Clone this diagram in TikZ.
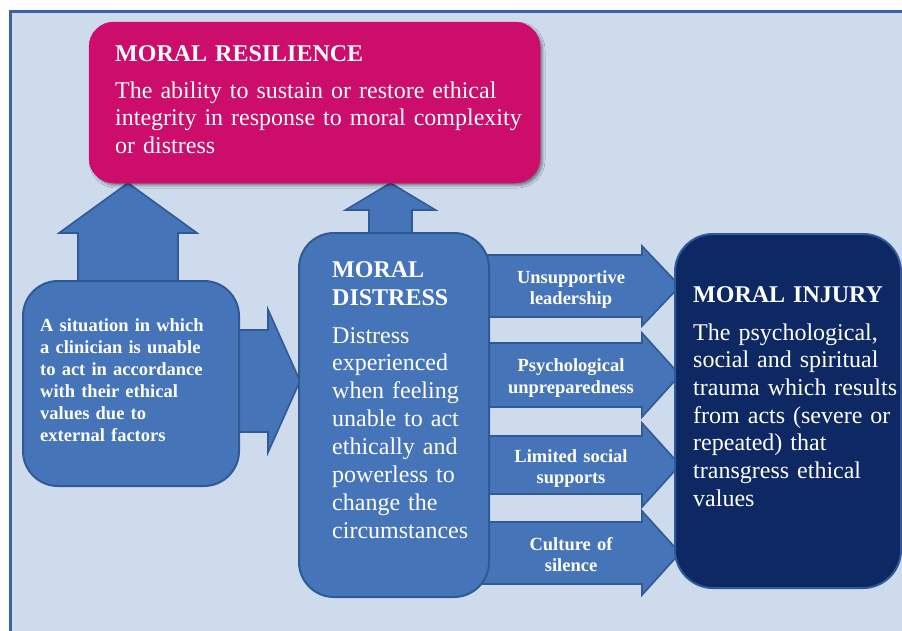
\documentclass[tikz,border=0pt]{standalone}
\usepackage{fontspec}
\setmainfont{Liberation Serif}
\usetikzlibrary{shadows.blur}

\definecolor{panelbg}{HTML}{CEDBED}
\definecolor{panelline}{HTML}{3A62A6}
\definecolor{boxblue}{HTML}{4674B8}
\definecolor{boxline}{HTML}{2F5A94}
\definecolor{resil}{HTML}{CC0D6B}
\definecolor{navy}{HTML}{0D2862}
\definecolor{navyline}{HTML}{2F5A9A}

% right-pointing block arrow: start x, head base x, tip x, centre y, shaft half height, head half height
\newcommand{\rightblock}[6]{%
  \filldraw[blockarrow] (#1,#4-#5) -- (#2,#4-#5) -- (#2,#4-#6) -- (#3,#4)
    -- (#2,#4+#6) -- (#2,#4+#5) -- (#1,#4+#5) -- cycle;}
% upward block arrow: start y, centre x, head base y, tip y, shaft half width, head half width
\newcommand{\upblock}[6]{%
  \filldraw[blockarrow] (#2-#5,#1) -- (#2-#5,#3) -- (#2-#6,#3) -- (#2,#4)
    -- (#2+#6,#3) -- (#2+#5,#3) -- (#2+#5,#1) -- cycle;}

\begin{document}
\begin{tikzpicture}[x=1pt,y=-1pt,
  box/.style={draw=boxline, line width=2pt, fill=boxblue, anchor=north west,
    inner sep=0pt, outer sep=0pt},
  blockarrow/.style={draw=boxline, line width=1.6pt, fill=boxblue, line join=miter},
  headtext/.style={text=white, anchor=base west, inner sep=0pt, align=left,
    text width=220pt, font=\bfseries\fontsize{24}{28}\selectfont},
  bodytext/.style={text=white, anchor=base west, inner sep=0pt, align=left},
  smalltext/.style={text=white, anchor=base, inner sep=0pt, align=center,
    text width=150pt, font=\bfseries\fontsize{18.5}{21.5}\selectfont},
]
\useasboundingbox (0,0) rectangle (902,630);

% background panel
\fill[panelbg] (10,10) rectangle (910,640);
\draw[panelline, line width=2.6pt] (10.6,640) -- (10.6,11.3) -- (910,11.3);

% block arrows (drawn beneath the boxes)
\upblock{300}{128}{233}{183}{50}{69}
\upblock{260}{390.5}{210}{183}{21.5}{45}
\rightblock{230}{268}{300}{381}{51}{71.5}
\rightblock{480}{642}{680}{286}{31}{40}
\rightblock{480}{642}{680}{375}{32}{42}
\rightblock{480}{642}{680}{465}{29}{42}
\rightblock{480}{642}{680}{553}{31}{42}

% boxes
\node[box, fill=resil, draw=resil, line width=0.5pt, rounded corners=25pt,
  minimum width=451pt, minimum height=161pt,
  blur shadow={shadow xshift=2.5pt, shadow yshift=-2.5pt, shadow blur radius=2.5pt, shadow opacity=45}]
  (res) at (89,22) {};
\node[box, rounded corners=35pt, minimum width=216pt, minimum height=205pt] (sit) at (23,281) {};
\node[box, rounded corners=35pt, minimum width=190pt, minimum height=364pt] (dist) at (299,233) {};
\node[box, fill=navy, draw=navyline, rounded corners=38pt,
  minimum width=226pt, minimum height=354pt] (inj) at (675,234) {};

% texts
\node[headtext, text width=300pt] (restitle) at (115,61) {MORAL RESILIENCE};
\node[bodytext, text width=420pt, font=\fontsize{24}{27.5}\selectfont] (resbody) at (115,98)
  {The ability to sustain or restore ethical\\integrity in response to moral complexity\\or distress};

\node[bodytext, text width=190pt, font=\bfseries\fontsize{18.5}{22}\selectfont] (sittext) at (40,331)
  {A situation in which\\a clinician is unable\\to act in accordance\\with their ethical\\values due to\\external factors};

\node[headtext, text width=150pt] (disttitle) at (332,277) {MORAL\\DISTRESS};
\node[bodytext, text width=155pt, font=\fontsize{24}{27.9}\selectfont] (distbody) at (332,343)
  {Distress\\experienced\\when feeling\\unable to act\\ethically and\\powerless to\\change the\\circumstances};

\node[smalltext] (lab1) at (571,283) {Unsupportive\\leadership};
\node[smalltext] (lab2) at (571,371.5) {Psychological\\unpreparedness};
\node[smalltext] (lab3) at (571,462) {Limited social\\supports};
\node[smalltext] (lab4) at (571,550) {Culture of\\silence};

\node[headtext, text width=210pt] (injtitle) at (693,302) {MORAL INJURY};
\node[bodytext, text width=210pt, font=\fontsize{24}{27.7}\selectfont] (injbody) at (693,340)
  {The psychological,\\social and spiritual\\trauma which results\\from acts (severe or\\repeated) that\\transgress ethical\\values};
\end{tikzpicture}
\end{document}
